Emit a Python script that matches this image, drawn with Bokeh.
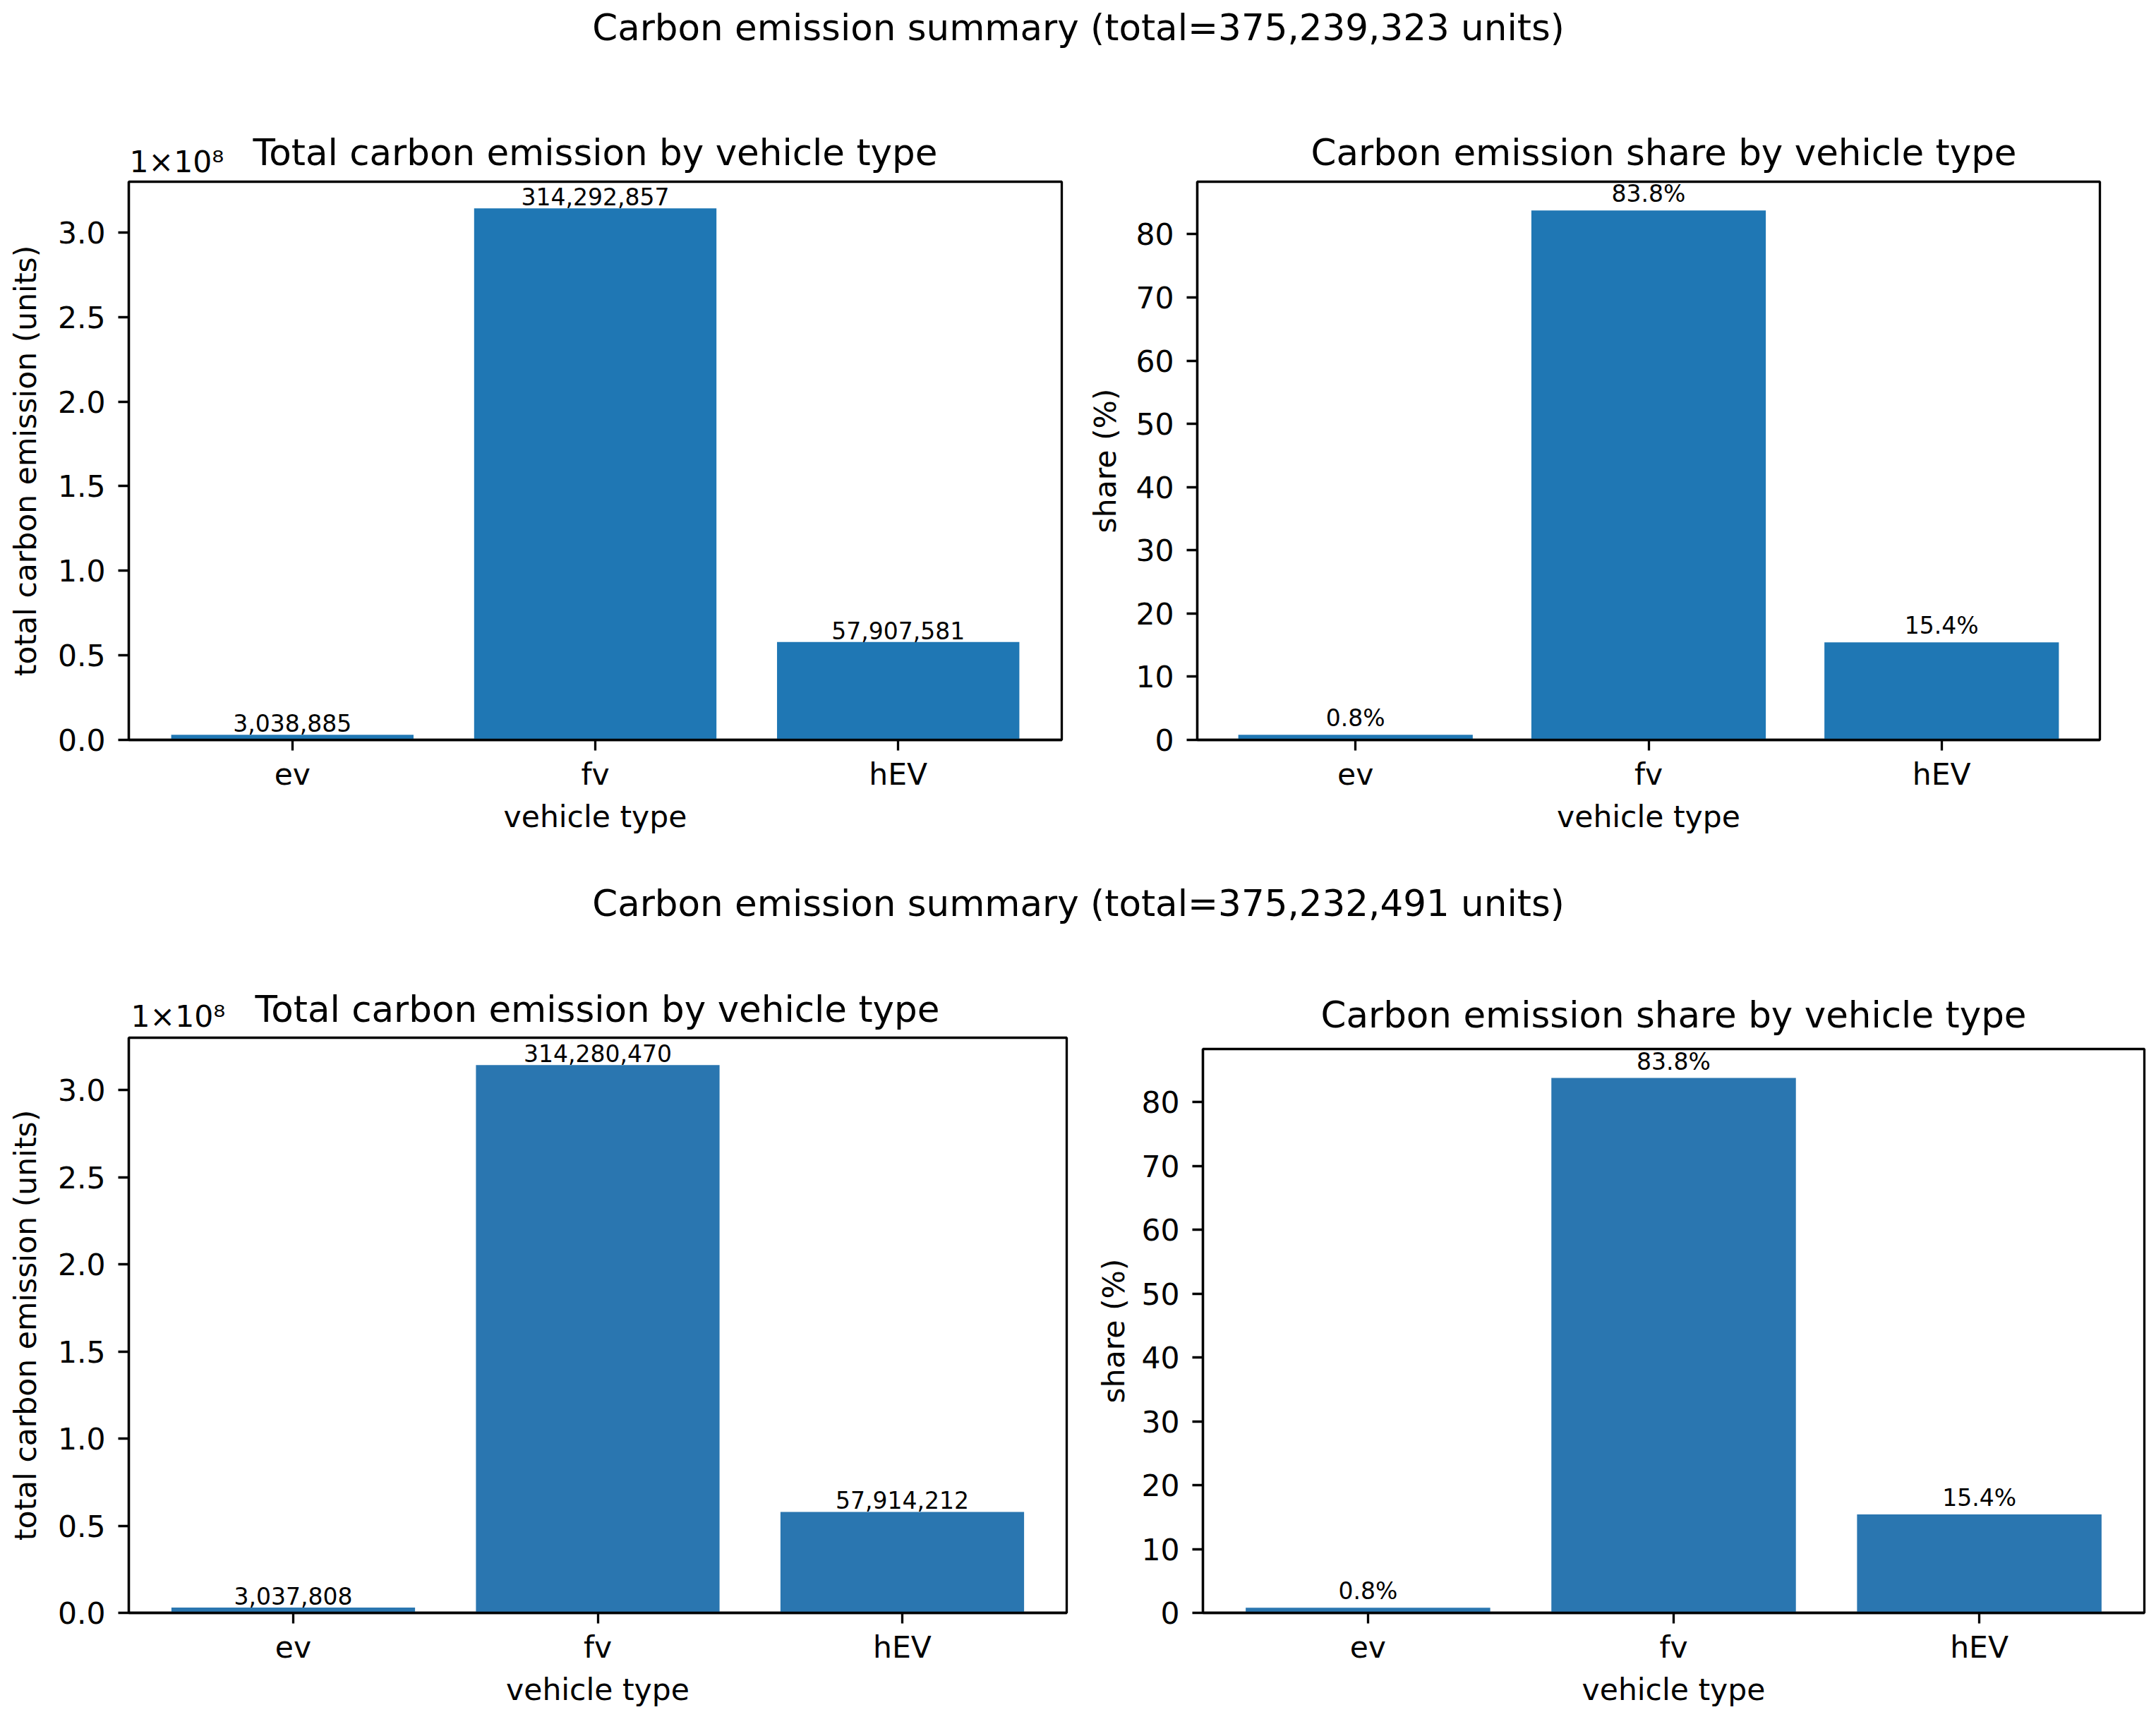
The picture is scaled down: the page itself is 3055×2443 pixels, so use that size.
from bokeh.plotting import figure
from bokeh.models import (Range1d, FixedTicker, CustomJSTickFormatter, Label,
                          ColumnDataSource, Spacer)
from bokeh.layouts import column, row
from bokeh.embed import file_html
from bokeh.resources import INLINE
from bokeh.core.properties import value

# ---------------- data ----------------
categories = ["ev", "fv", "hEV"]

top_totals = [3038885, 314292857, 57907581]
top_shares = [0.81, 83.76, 15.43]
top_suptitle = "Carbon emission summary (total=375,239,323 units)"

bottom_totals = [3037808, 314280470, 57914212]
bottom_shares = [0.81, 83.76, 15.43]
bottom_suptitle = "Carbon emission summary (total=375,232,491 units)"

total_title = "Total carbon emission by vehicle type"
share_title = "Carbon emission share by vehicle type"
offset_text = "1×10⁸"

total_ticks = [0, 0.5e8, 1.0e8, 1.5e8, 2.0e8, 2.5e8, 3.0e8]
share_ticks = [0, 10, 20, 30, 40, 50, 60, 70, 80]

FONT = "DejaVu Sans"
TICK_PX = "42.5px"
TITLE_PX = "51.5px"
BAR_LABEL_PX = "33px"
LINE_W = 3.3
TOTAL_W = 3050


def style(p, ylab_standoff):
    p.xgrid.visible = False
    p.ygrid.visible = False
    p.outline_line_color = "black"
    p.outline_line_width = LINE_W
    p.background_fill_color = "white"
    p.border_fill_color = "white"
    for ax in (p.xaxis[0], p.yaxis[0]):
        ax.axis_line_width = LINE_W
        ax.axis_line_color = "black"
        ax.major_tick_line_width = LINE_W
        ax.major_tick_line_color = "black"
        ax.major_tick_out = 15
        ax.major_tick_in = 0
        ax.minor_tick_out = 0
        ax.minor_tick_in = 0
        ax.major_label_text_font = FONT
        ax.major_label_text_font_size = TICK_PX
        ax.major_label_text_color = "black"
        ax.axis_label_text_font = FONT
        ax.axis_label_text_font_size = TICK_PX
        ax.axis_label_text_font_style = "normal"
        ax.axis_label_text_color = "black"
    p.xaxis[0].major_label_standoff = 9
    p.xaxis[0].axis_label_standoff = 8
    p.yaxis[0].major_label_standoff = 18
    p.yaxis[0].axis_label_standoff = ylab_standoff


def panel(vals, labels, ymax, yticks, ylabel, width, height,
          left, right, top, bottom, color, ylab_standoff, sci=False):
    p = figure(width=width, height=height, title=None,
               x_range=Range1d(-0.54, 2.54), y_range=Range1d(0, ymax),
               min_border_left=left, min_border_right=right,
               min_border_top=top, min_border_bottom=bottom,
               output_backend="svg", toolbar_location=None)
    style(p, ylab_standoff)
    src = ColumnDataSource(dict(x=[0, 1, 2], top=vals, lab=labels))
    p.vbar(x="x", top="top", width=0.8, bottom=0, source=src,
           fill_color=color, line_color=None)
    p.text(x="x", y="top", text="lab", source=src,
           text_font=value(FONT), text_font_size=value(BAR_LABEL_PX),
           text_align="center", text_baseline="bottom", text_color="black",
           y_offset=-4)
    p.xaxis[0].ticker = FixedTicker(ticks=[0, 1, 2])
    p.xaxis[0].major_label_overrides = {i: c for i, c in enumerate(categories)}
    p.xaxis[0].axis_label = "vehicle type"
    p.yaxis[0].ticker = FixedTicker(ticks=yticks)
    p.yaxis[0].axis_label = ylabel
    if sci:
        p.yaxis[0].formatter = CustomJSTickFormatter(
            code="return (tick/1e8).toFixed(1);")
    return p


def band(height, items):
    """A strip holding the figure's titles; y runs downward in px."""
    p = figure(width=TOTAL_W, height=height, title=None,
               x_range=Range1d(0, TOTAL_W), y_range=Range1d(height, 0),
               min_border=0, x_axis_location=None, y_axis_location=None,
               output_backend="svg", toolbar_location=None)
    p.outline_line_color = None
    p.xgrid.visible = False
    p.ygrid.visible = False
    p.background_fill_color = "white"
    p.border_fill_color = "white"
    for text, x, y, size, align in items:
        p.add_layout(Label(x=x, y=y, text=text, text_font=FONT,
                           text_font_size=size, text_align=align,
                           text_baseline="alphabetic", text_color="black"))
    return p


BLUE_TOP = "#1f77b4"
BLUE_BOTTOM = "#2a76b0"

# band 1: page y 0..255
b1 = band(255, [
    (top_suptitle, 1527.5, 38, TITLE_PX, "center"),
    (total_title, 843, 215, TITLE_PX, "center"),
    (share_title, 2357, 215, TITLE_PX, "center"),
    (offset_text, 183, 229, TICK_PX, "left"),
])

# row 1: page y 255..1210
tl = panel(top_totals, [f"{v:,}" for v in top_totals], 3.30e8, total_ticks,
           "total carbon emission (units)", 1531, 955, 182, 27, 2, 162,
           BLUE_TOP, 18, sci=True)
tr = panel(top_shares, [f"{v:.1f}%" for v in top_shares], 88.3, share_ticks,
           "share (%)", TOTAL_W - 1531, 955, 165, 75, 2, 162,
           BLUE_TOP, 15)

# band 2: page y 1210..1468
b2 = band(258, [
    (bottom_suptitle, 1527.5, 69, TITLE_PX, "center"),
    (total_title, 846, 219, TITLE_PX, "center"),
    (share_title, 2371, 227, TITLE_PX, "center"),
    (offset_text, 185, 230, TICK_PX, "left"),
])

# row 2: page y 1468..2435 (right panel starts 16 px lower)
bl = panel(bottom_totals, [f"{v:,}" for v in bottom_totals], 3.30e8,
           total_ticks, "total carbon emission (units)", 1539, 967,
           182, 28, 2, 150, BLUE_BOTTOM, 18, sci=True)
br = panel(bottom_shares, [f"{v:.1f}%" for v in bottom_shares], 88.3,
           share_ticks, "share (%)", TOTAL_W - 1539, 951, 165, 12, 2, 150,
           BLUE_BOTTOM, 11)
br_col = column(Spacer(width=TOTAL_W - 1539, height=16), br)

layout = column(b1, row(tl, tr), b2, row(bl, br_col))

open("out.html", "w").write(file_html(layout, INLINE))
